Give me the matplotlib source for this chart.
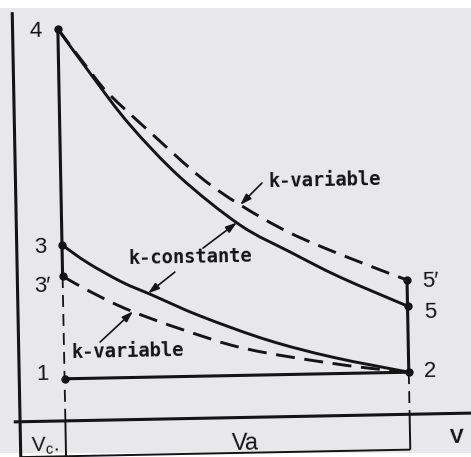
import numpy as np
import matplotlib
matplotlib.use("Agg")
import matplotlib.pyplot as plt
import matplotlib.transforms as mtransforms
from matplotlib.patches import Rectangle, PathPatch
from matplotlib.path import Path

# ---------------- data (V in units of Vc, P in units of P1) ----------------
V_c = 1.0
V_2 = 8.6
P_1 = 1.0
P_2 = 1.0
P_3 = 4.18
P_3p = 3.44
P_4 = 9.31
P_5 = 2.57
P_5p = 3.19

# expansion 4 -> 5 (k constant)
exp_const_V = [1.0, 1.755, 2.55, 3.63, 4.94, 6.03, 7.12, 8.6]
exp_const_P = [9.31, 8.15, 7.00, 5.74, 4.57, 3.91, 3.29, 2.57]
# expansion 4 -> 5' (k variable)
exp_var_V = [1.0, 1.755, 2.12, 2.99, 4.08, 4.95, 6.04, 7.29, 8.6]
exp_var_P = [9.31, 8.20, 7.72, 6.82, 5.73, 5.05, 4.36, 3.76, 3.19]
# compression 2 -> 3 (k constant)
comp_const_V = [1.0, 1.565, 2.31, 2.965, 4.02, 5.49, 6.93, 8.6]
comp_const_P = [4.18, 3.74, 3.27, 2.95, 2.43, 1.83, 1.39, 1.0]
# compression 2 -> 3' (k variable)
comp_var_V = [1.0, 1.45, 2.19, 2.91, 3.79, 4.67, 5.48, 6.71, 7.68, 8.6]
comp_var_P = [3.44, 3.15, 2.73, 2.40, 2.05, 1.73, 1.52, 1.28, 1.12, 1.0]

point_labels = ["4", "3", "3\u2032", "1", "5\u2032", "5", "2"]

# ---------------- figure ----------------
W, H = 471, 457
fig = plt.figure(figsize=(W / 100, H / 100), dpi=100)
fig.patch.set_facecolor("white")
ax = fig.add_axes([0, 0, 1, 1])
ax.set_xlim(-0.362, 10.035)
ax.set_ylim(-0.936, 9.919)
ax.axis("off")
ax.add_patch(Rectangle((0, 4 / H), 1, 445 / H, transform=fig.transFigure,
                       facecolor="#e8e8ea", edgecolor="none", zorder=-10))

# the scanned figure is slightly rotated
tr = ax.transData + mtransforms.Affine2D().rotate_deg_around(235, 229, 1.1)

ink = "#141414"
base = dict(color=ink, transform=tr, solid_capstyle="butt", dash_capstyle="butt")
vdash = (0, (6.6, 3.9))
cdash = (0, (6.5, 3.3))


def smooth_curve(xs, ys, **kw):
    """Smooth curve through the read points (Catmull-Rom as cubic Beziers)."""
    p = np.column_stack([xs, ys]).astype(float)
    ext = np.vstack([p[0], p, p[-1]])
    verts = [p[0]]
    codes = [Path.MOVETO]
    for i in range(len(p) - 1):
        p0, p1, p2, p3 = ext[i], ext[i + 1], ext[i + 2], ext[i + 3]
        verts += [p1 + (p2 - p0) / 6, p2 - (p3 - p1) / 6, p2]
        codes += [Path.CURVE4] * 3
    patch = PathPatch(Path(verts, codes), fill=False, edgecolor=ink,
                      transform=tr, capstyle="butt", **kw)
    ax.add_patch(patch)


# axes
ax.plot([0, 0], [9.73, -0.95], lw=2.2, **base)
ax.plot([-0.14, 10.2], [0, 0], lw=2.2, **base)
# Vc line
ax.plot([V_c, V_c], [P_4, P_3p], lw=2.2, **base)
ax.plot([V_c, V_c], [P_3p, 0], lw=1.3, ls=vdash, **base)
ax.plot([V_c, V_c], [0, -0.84], lw=1.4, **base)
# V2 line
ax.plot([V_2, V_2], [P_2, P_5p], lw=2.2, **base)
ax.plot([V_2, V_2], [P_2, 0], lw=1.3, ls=vdash, **base)
ax.plot([V_2, V_2], [0, -0.84], lw=1.4, **base)
# bottom bracket
ax.plot([0, V_2], [-0.84, -0.84], lw=1.4, **base)
# 1 - 2
ax.plot([V_c, V_2], [P_1, P_2], lw=2.2, **base)

# curves
smooth_curve(exp_const_V, exp_const_P, lw=2.1)
smooth_curve(exp_var_V, exp_var_P, lw=2.1, linestyle=cdash)
smooth_curve(comp_const_V, comp_const_P, lw=2.1)
smooth_curve(comp_var_V, comp_var_P, lw=2.1, linestyle=cdash)

# state points
ax.plot([V_c, V_c, V_c, V_c, V_2, V_2, V_2], [P_4, P_3, P_3p, P_1, P_5p, P_5, P_2],
        "o", ms=5, color=ink, transform=tr, zorder=5)

# point labels
num_font = dict(family="Liberation Sans", fontsize=16, color=ink, transform=tr,
                ha="center", va="baseline", rotation=1.1, rotation_mode="anchor")
label_pos = [(0.512, 9.13), (0.51, 4.0), (0.539, 3.07), (0.523, 0.98),
             (9.106, 3.01), (9.09, 2.28), (9.07, 0.88)]
for txt, (x, y) in zip(point_labels, label_pos):
    ax.text(x, y, txt, **num_font)

# axis labels
ax.text(9.62, -0.70, "V", family="Liberation Sans", fontweight="bold", fontsize=15,
        color=ink, transform=tr, ha="center", va="baseline", rotation=1.1,
        rotation_mode="anchor")
ax.text(4.96, -0.77, "Va", family="Liberation Sans", fontsize=17, color=ink,
        transform=tr, ha="center", va="baseline", rotation=1.1, rotation_mode="anchor")
ax.text(0.54, -0.72, r"V$_\mathregular{c}$.", family="Liberation Sans", fontsize=15,
        color=ink, transform=tr, ha="center", va="baseline", rotation=1.1,
        rotation_mode="anchor")

# k labels (wide, evenly spaced bold lettering)
kfont = dict(family="DejaVu Sans Mono", fontweight="bold", fontsize=13.5, color=ink,
             transform=tr, ha="left", va="baseline", rotation=1.1, rotation_mode="anchor")
ax.text(5.57, 5.46, "k-variable", **kfont)
ax.text(2.448, 3.70, "k-constante", **kfont)
ax.text(1.17, 1.49, "k-variable", **kfont)

# arrows pointing onto the curves
aprops = dict(arrowstyle="-|>,head_length=0.55,head_width=0.18", lw=1.2, color=ink,
              shrinkA=0, shrinkB=0, mutation_scale=12)


def arrow(tail, v_tip, cv, cp):
    tip = (v_tip, float(np.interp(v_tip, cv, cp)))
    ax.annotate("", xy=tip, xytext=tail, xycoords=tr, textcoords=tr, arrowprops=aprops)


arrow((5.44, 5.56), 4.95, exp_var_V, exp_var_P)
arrow((4.11, 4.04), 4.87, exp_const_V, exp_const_P)
arrow((3.48, 3.485), 2.88, comp_const_V, comp_const_P)
arrow((1.80, 1.857), 2.54, comp_var_V, comp_var_P)

fig.savefig("out.png", dpi=100, facecolor=fig.get_facecolor())
